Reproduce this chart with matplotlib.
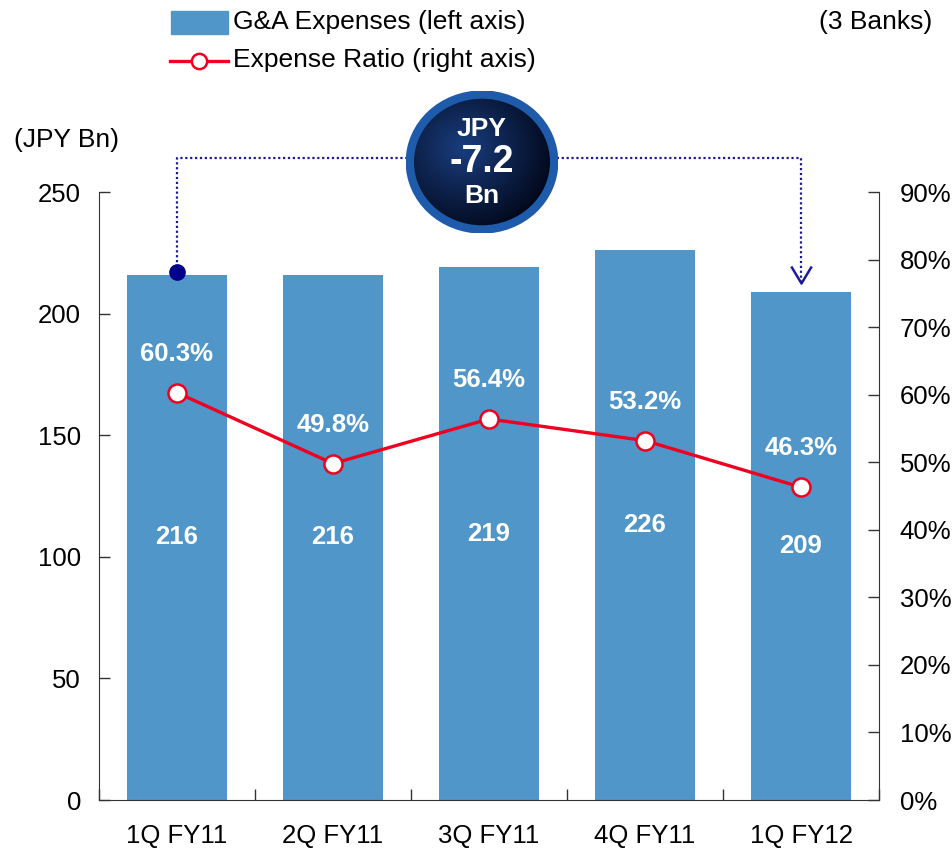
import numpy as np
import matplotlib
matplotlib.use("Agg")
import matplotlib.pyplot as plt
from matplotlib.patches import Ellipse, Rectangle
from matplotlib.lines import Line2D
from matplotlib.path import Path

plt.rcParams['font.family'] = ['Liberation Sans', 'DejaVu Sans']

categories = ["1Q FY11", "2Q FY11", "3Q FY11", "4Q FY11", "1Q FY12"]
expenses = [216, 216, 219, 226, 209]
expense_ratio = [60.3, 49.8, 56.4, 53.2, 46.3]
left_ticks = [0, 50, 100, 150, 200, 250]
right_ticks = list(range(0, 100, 10))

BAR = '#5096C8'
RED = '#F00020'
NAVY = '#1A1A9C'
FS = 18.5
LFS = 19

W, H = 953, 851
fig = plt.figure(figsize=(W / 100, H / 100), dpi=100)
ax_l, ax_r, ax_b, ax_t = 99, 879, 800, 192
ax = fig.add_axes([ax_l / W, 1 - ax_b / H, (ax_r - ax_l) / W, (ax_b - ax_t) / H])
ax2 = ax.twinx()

x = np.arange(len(categories))
ax.bar(x, expenses, width=0.635, color=BAR, zorder=2)
ax.set_xlim(-0.5, len(categories) - 0.5)
ax.set_ylim(0, 250)
ax.set_yticks(left_ticks)
ax.set_yticklabels([str(t) for t in left_ticks], fontsize=FS)
ax.set_xticks(x)
ax.set_xticklabels(categories, fontsize=FS)
ax.set_xticks(np.arange(-0.5, len(categories), 1.0), minor=True)
ax.tick_params(axis='x', which='major', length=0, pad=17)
ax.tick_params(axis='x', which='minor', direction='in', length=8, width=1, color='#333333')
ax.tick_params(axis='y', direction='in', length=8, width=1, pad=13, color='#333333')
for s in ['top', 'right']:
    ax.spines[s].set_visible(False)
ax.spines['left'].set_color('#333333')
ax.spines['bottom'].set_color('#333333')

for xi, v in zip(x, expenses):
    ax.text(xi, v / 2, str(v), ha='center', va='center', color='white',
            fontsize=FS, fontweight='bold', zorder=5)

ax2.set_ylim(0, 90)
ax2.set_yticks(right_ticks)
ax2.set_yticklabels([f"{t}%" for t in right_ticks], fontsize=FS)
ax2.tick_params(axis='y', direction='in', length=8, width=1, pad=15, color='#333333')
for s in ['top', 'left', 'bottom']:
    ax2.spines[s].set_visible(False)
ax2.spines['right'].set_color('#333333')
ax2.plot(x, expense_ratio, color=RED, lw=2.4, marker='o', markersize=13,
         markerfacecolor='white', markeredgecolor=RED, markeredgewidth=1.8, zorder=4)
for xi, v in zip(x, expense_ratio):
    ax2.annotate(f"{v}%", (xi, v), xytext=(0, 28), textcoords='offset points',
                 ha='center', va='center', color='white', fontsize=FS,
                 fontweight='bold', zorder=5)

# connector
ax.plot([0, 0, 4, 4], [217, 264, 264, 213], ls=(0, (1, 1.2)), color=NAVY, lw=1.6,
        clip_on=False, zorder=6)
ax.plot([0], [217], 'o', color='#00008B', markersize=11, clip_on=False, zorder=7)
vpath = Path([(-0.6, 1.0), (0.0, 0.0), (0.6, 1.0)],
             [Path.MOVETO, Path.LINETO, Path.LINETO])
ax.plot([4], [212.6], marker=vpath, markersize=24.5, markerfacecolor='none',
        markeredgecolor=NAVY, markeredgewidth=1.8, linestyle='none',
        clip_on=False, zorder=7)

# bubble
cx, cy, bw, bh = 482, 162, 152, 142
bax = fig.add_axes([(cx - bw / 2) / W, 1 - (cy + bh / 2) / H, bw / W, bh / H])
bax.set_xlim(-1, 1)
bax.set_ylim(-1, 1)
bax.axis('off')
gx, gy = np.meshgrid(np.linspace(-1, 1, 200), np.linspace(1, -1, 200))
d = np.sqrt((gx + 0.25) ** 2 + (gy - 0.2) ** 2)
t = np.clip(d / 1.3, 0, 1)
c0 = np.array([0.10, 0.24, 0.50])
c1 = np.array([0.0, 0.02, 0.08])
img = c0[None, None, :] * (1 - t[..., None]) + c1[None, None, :] * t[..., None]
im = bax.imshow(img, extent=(-1, 1, -1, 1), aspect='auto', zorder=1)
ell = Ellipse((0, 0), 1.9, 1.9, transform=bax.transData, facecolor='none',
              edgecolor='none')
bax.add_patch(ell)
im.set_clip_path(ell)
bax.add_patch(Ellipse((0, 0), 1.9, 1.9, facecolor='none', edgecolor='#1E5BAA',
                      lw=6, zorder=3))
fig.text(cx / W, 1 - 129 / H, "JPY", ha='center', va='center', color='white',
         fontsize=19, fontweight='bold')
fig.text(cx / W, 1 - 162 / H, "-7.2", ha='center', va='center', color='white',
         fontsize=27, fontweight='bold')
fig.text(cx / W, 1 - 196 / H, "Bn", ha='center', va='center', color='white',
         fontsize=19, fontweight='bold')

# legend
fig.patches.append(Rectangle((171 / W, 1 - 34 / H), 57 / W, 23 / H,
                             transform=fig.transFigure, color=BAR))
fig.text(233 / W, 1 - 22 / H, "G&A Expenses (left axis)", ha='left', va='center',
         fontsize=LFS)
fig.lines.append(Line2D([170 / W, 228 / W], [1 - 61 / H, 1 - 61 / H],
                        transform=fig.transFigure, color=RED, lw=2.4))
fig.lines.append(Line2D([199 / W], [1 - 61 / H], transform=fig.transFigure,
                        marker='o', markersize=11, markerfacecolor='white',
                        markeredgecolor=RED, markeredgewidth=1.8))
fig.text(233 / W, 1 - 60 / H, "Expense Ratio (right axis)", ha='left', va='center',
         fontsize=LFS)
fig.text(932 / W, 1 - 22 / H, "(3 Banks)", ha='right', va='center', fontsize=LFS)
fig.text(14 / W, 1 - 140 / H, "(JPY Bn)", ha='left', va='center', fontsize=LFS)

fig.savefig("out.png", dpi=100)
